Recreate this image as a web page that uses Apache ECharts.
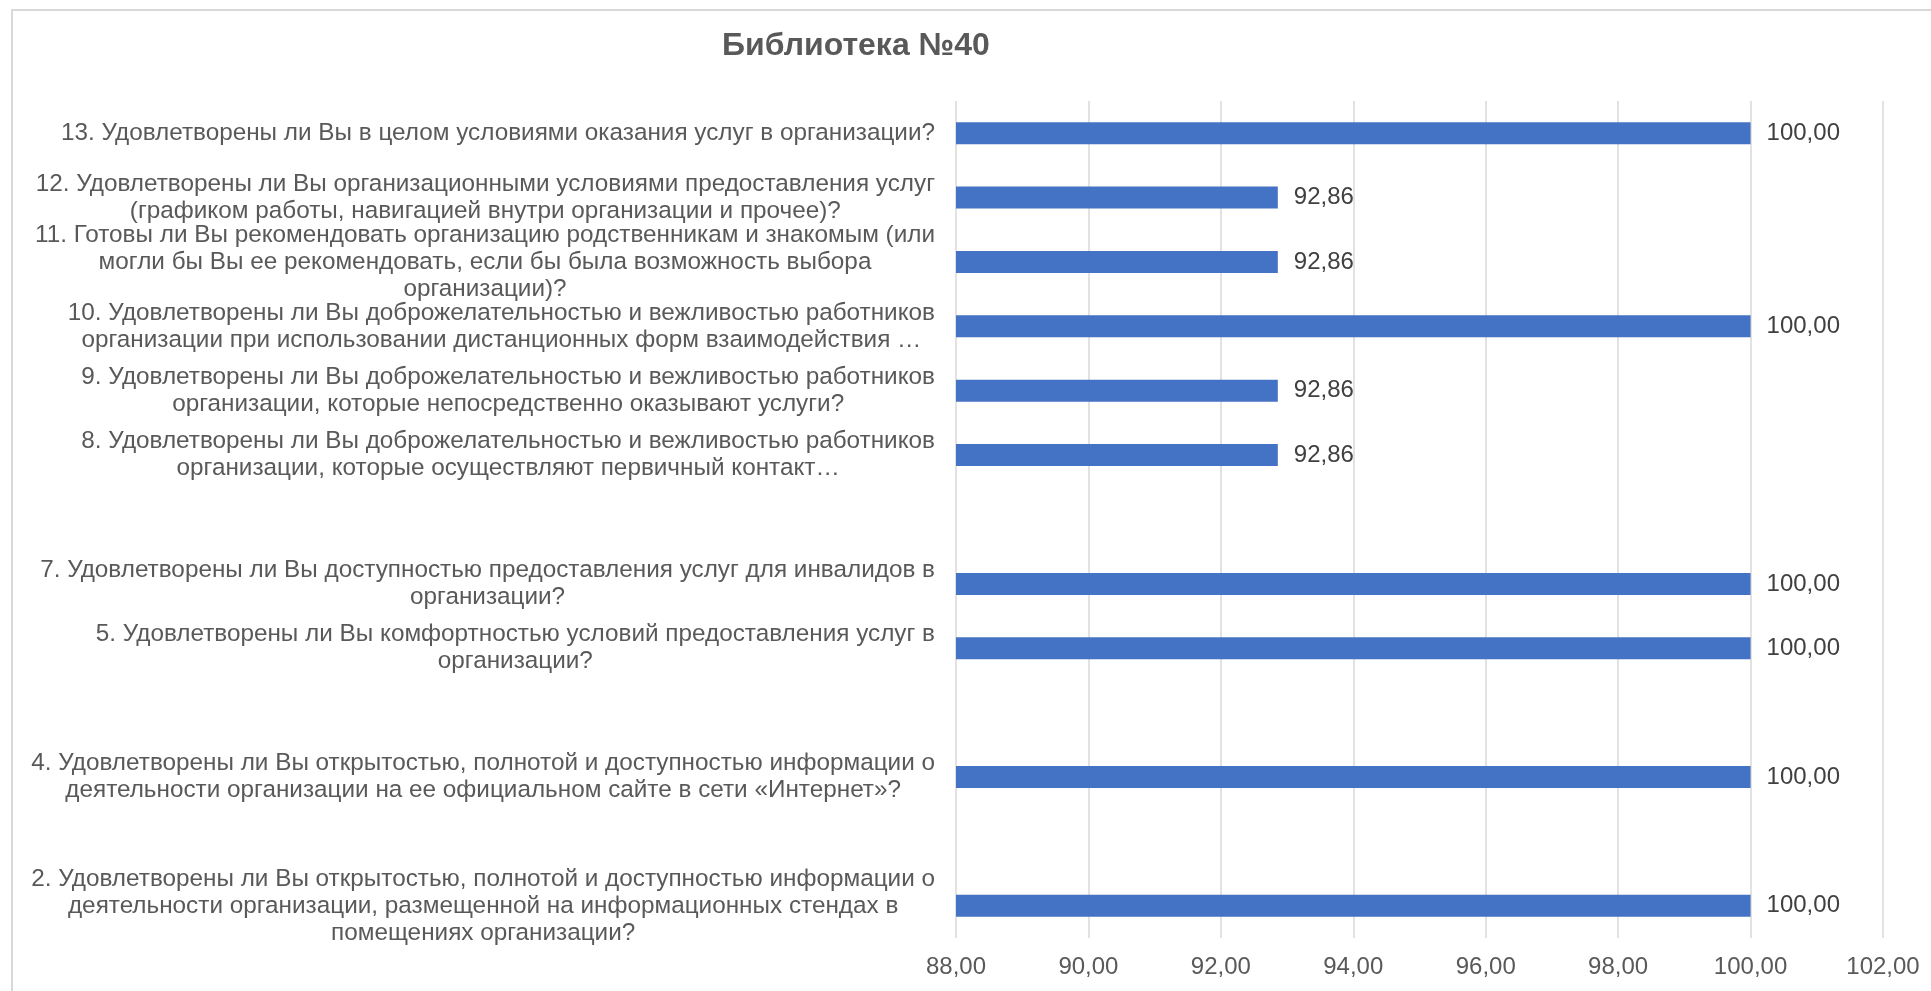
<!DOCTYPE html>
<html>
<head>
<meta charset="utf-8">
<title>Библиотека №40</title>
<script src="https://cdn.jsdelivr.net/npm/echarts@6/dist/echarts.min.js"></script>
<style>
  html, body { margin: 0; padding: 0; background: #ffffff; }
  #chart { width: 1931px; height: 991px; }
</style>
</head>
<body>
<div id="chart"></div>
<script>
// Question labels, top to bottom (blank entries are empty rows in the list)
const categories = [
  '13. Удовлетворены ли Вы в целом условиями оказания услуг в организации?',
  '12. Удовлетворены ли Вы организационными условиями предоставления услуг\n(графиком работы, навигацией внутри организации и прочее)?',
  '11. Готовы ли Вы рекомендовать организацию родственникам и знакомым (или\nмогли бы Вы ее рекомендовать, если бы была возможность выбора\nорганизации)?',
  '10. Удовлетворены ли Вы доброжелательностью и вежливостью работников\nорганизации при использовании дистанционных форм взаимодействия …',
  '9. Удовлетворены ли Вы доброжелательностью и вежливостью работников\nорганизации, которые непосредственно оказывают услуги?',
  '8. Удовлетворены ли Вы доброжелательностью и вежливостью работников\nорганизации, которые осуществляют первичный контакт…',
  ' ',
  '7. Удовлетворены ли Вы доступностью предоставления услуг для инвалидов в\nорганизации?',
  '5. Удовлетворены ли Вы комфортностью условий предоставления услуг в\nорганизации?',
  '  ',
  '4. Удовлетворены ли Вы открытостью, полнотой и доступностью информации о\nдеятельности организации на ее официальном сайте в сети «Интернет»?',
  '   ',
  '2. Удовлетворены ли Вы открытостью, полнотой и доступностью информации о\nдеятельности организации, размещенной на информационных стендах в\nпомещениях организации?'
];

// Satisfaction share, %, same order as categories
const values = [100.00, 92.86, 92.86, 100.00, 92.86, 92.86, null, 100.00, 100.00, null, 100.00, null, 100.00];

// Value axis range
const axisMin = 88;
const axisMax = 102;
const axisStep = 2;

const chartTitle = 'Библиотека №40';

const FONT = '"Liberation Sans", Arial, "DejaVu Sans", sans-serif';
const LABEL_SIZE = 24.3;
const fmt = v => Number(v).toFixed(2).replace('.', ',');

const chart = echarts.init(document.getElementById('chart'), null, { renderer: 'canvas' });

chart.setOption({
  backgroundColor: '#ffffff',
  animation: false,
  title: {
    text: chartTitle,
    left: 722,
    top: 30,
    padding: 0,
    textStyle: { fontFamily: FONT, fontSize: 32, fontWeight: 'bold', color: '#595959' }
  },
  graphic: [{
    type: 'rect',
    silent: true,
    shape: { x: 12, y: 10, width: 1940, height: 1000 },
    style: { fill: 'none', stroke: '#d9d9d9', lineWidth: 2 }
  }],
  grid: {
    left: 956,
    right: 48,
    top: 101,
    bottom: 53,
    containLabel: false,
    outerBoundsMode: 'none'
  },
  xAxis: {
    type: 'value',
    min: axisMin,
    max: axisMax,
    interval: axisStep,
    axisLine: { show: false },
    axisTick: { show: false },
    splitLine: { show: true, lineStyle: { color: '#d9d9d9', width: 1.5 } },
    axisLabel: {
      margin: 17,
      fontFamily: FONT,
      fontSize: 24,
      color: '#595959',
      formatter: fmt
    }
  },
  yAxis: {
    type: 'category',
    inverse: true,
    data: categories,
    axisLine: { show: false },
    axisTick: { show: false },
    splitLine: { show: false },
    axisLabel: {
      interval: 0,
      margin: 21,
      align: 'right',
      fontFamily: FONT,
      fontSize: LABEL_SIZE,
      color: '#595959',
      lineHeight: 27,
      // each line is centred inside the label block
      formatter: v => v.trim() === '' ? '' : v.split('\n').map(s => '{c|' + s + '}').join('\n'),
      rich: {
        c: { align: 'center', fontFamily: FONT, fontSize: LABEL_SIZE, color: '#595959', lineHeight: 27 }
      }
    }
  },
  series: [{
    type: 'bar',
    data: values,
    barWidth: 22,
    itemStyle: { color: '#4472c4' },
    label: {
      show: true,
      position: 'right',
      distance: 16,
      fontFamily: FONT,
      fontSize: 24,
      color: '#404040',
      formatter: p => fmt(p.value)
    }
  }]
});
</script>
</body>
</html>
